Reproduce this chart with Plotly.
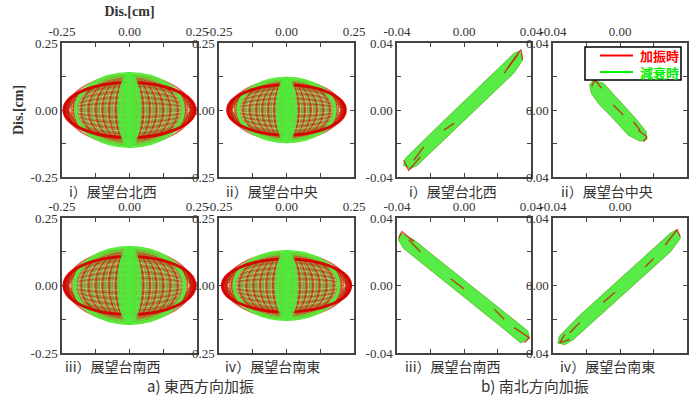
import plotly.graph_objects as go

# ---------------- data (cm) ----------------
# a) East-West excitation: orbit drawn as families of ellipses (semi-axes)
a_panels = ["a1", "a2", "a3", "a4"]
a_red_tip_rx = [0.245, 0.220, 0.245, 0.240]      # red envelope semi-axis x
a_red_tip_ry = [0.105, 0.095, 0.110, 0.100]      # red envelope semi-axis y
a_green_rx = [0.200, 0.180, 0.205, 0.195]        # green envelope semi-axis x
a_green_ry = [0.140, 0.122, 0.145, 0.130]        # green envelope semi-axis y
a_mer_frac = [0.94, 0.84, 0.73, 0.62, 0.51, 0.41, 0.31, 0.21]   # red meridian x-amplitudes / rx
a_par_frac = [0.85, 0.65, 0.45, 0.25]                            # red parallel y-amplitudes / ry
a_core_frac = [0.20, 0.15, 0.11, 0.07, 0.035]                    # green central band x-amplitudes / green rx

# b) North-South excitation: outline of the orbit band (polygon) per panel
b1_x = [-0.035, -0.025, -0.010, 0.005, 0.020, 0.030, 0.033, 0.035, 0.030, 0.015, 0.000, -0.015, -0.028, -0.032, -0.036, -0.035]
b1_y = [-0.029, -0.019, -0.0046, 0.0098, 0.0242, 0.0338, 0.035, 0.030, 0.0224, 0.008, -0.0064, -0.0208, -0.033, -0.035, -0.033, -0.029]
b2_x = [-0.016, -0.010, 0.000, 0.010, 0.0155, 0.016, 0.012, 0.005, -0.005, -0.012, -0.017, -0.018, -0.016]
b2_y = [0.0175, 0.016, 0.005, -0.006, -0.013, -0.0175, -0.0185, -0.015, -0.004, 0.003, 0.010, 0.015, 0.0175]
b3_x = [-0.038, -0.030, -0.015, 0.000, 0.015, 0.030, 0.038, 0.039, 0.034, 0.020, 0.005, -0.010, -0.025, -0.036, -0.039, -0.038]
b3_y = [0.031, 0.027, 0.015, 0.003, -0.009, -0.021, -0.027, -0.031, -0.034, -0.0226, -0.0106, 0.0014, 0.0134, 0.022, 0.027, 0.031]
b4_x = [-0.036, -0.025, -0.010, 0.005, 0.020, 0.030, 0.034, 0.036, 0.030, 0.015, 0.000, -0.015, -0.028, -0.033, -0.037, -0.036]
b4_y = [-0.030, -0.0187, -0.0052, 0.0083, 0.0218, 0.0308, 0.033, 0.028, 0.020, 0.0066, -0.0069, -0.0204, -0.032, -0.035, -0.034, -0.030]

# red loops visible at the ends of the bands and streaks inside (segments separated by None)
b1_rx = [-0.036, -0.033, -0.026, None, 0.024, 0.034, 0.035, None, -0.012, -0.006, None, 0.026, 0.032, None, -0.030, -0.024]
b1_ry = [-0.030, -0.036, -0.028, None, 0.022, 0.036, 0.030, None, -0.012, -0.008, None, 0.025, 0.033, None, -0.030, -0.022]
b2_rx = [-0.017, -0.015, -0.011, None, 0.011, 0.016, 0.014, None, -0.004, 0.002, None, 0.008, 0.012]
b2_ry = [0.014, 0.018, 0.013, None, -0.012, -0.016, -0.019, None, 0.003, -0.003, None, -0.007, -0.012]
b3_rx = [-0.039, -0.037, -0.030, None, 0.030, 0.039, 0.036, None, -0.008, 0.000, None, 0.018, 0.024, None, -0.033, -0.026]
b3_ry = [0.028, 0.032, 0.026, None, -0.025, -0.031, -0.034, None, 0.004, -0.002, None, -0.014, -0.020, None, 0.027, 0.020]
b4_rx = [-0.030, -0.036, -0.033, None, 0.027, 0.034, 0.036, None, -0.010, -0.003, None, 0.015, 0.020, None, -0.030, -0.024]
b4_ry = [-0.032, -0.034, -0.029, None, 0.024, 0.033, 0.029, None, -0.010, -0.004, None, 0.011, 0.016, None, -0.028, -0.022]

b_panels = ["b1", "b2", "b3", "b4"]
b_x = [b1_x, b2_x, b3_x, b4_x]
b_y = [b1_y, b2_y, b3_y, b4_y]
b_rx = [b1_rx, b2_rx, b3_rx, b4_rx]
b_ry = [b1_ry, b2_ry, b3_ry, b4_ry]

series_names = ["加振時", "減衰時"]
series_colors = ["#ff0000", "#00ee00"]

captions = ["i）展望台北西", "ii）展望台中央", "i）展望台北西", "ii）展望台中央",
            "iii）展望台南西", "iv）展望台南東", "iii）展望台南西", "iv）展望台南東"]
a_ticks = [-0.25, -0.125, 0.0, 0.125, 0.25]
a_ticktext = ["-0.25", "", "0.00", "", "0.25"]
b_ticks = [-0.04, -0.02, 0.0, 0.02, 0.04]
b_ticktext = ["-0.04", "", "0.00", "", "0.04"]

# ---------------- layout geometry ----------------
W, H = 691, 399
cols = [(62, 197), (219, 354), (397, 531), (553, 687)]
rows = [(43, 177), (218, 353)]
order = [("a1", 0, 0), ("a2", 1, 0), ("b1", 2, 0), ("b2", 3, 0),
         ("a3", 0, 1), ("a4", 1, 1), ("b3", 2, 1), ("b4", 3, 1)]

SERIF = "Liberation Serif"
CJK = "Noto Sans CJK JP"

fig = go.Figure()
shapes = []
annotations = []
layout_axes = {}

for i, (name, c, r) in enumerate(order):
    k = i + 1
    xa = "x" if k == 1 else f"x{k}"
    ya = "y" if k == 1 else f"y{k}"
    xkey = "xaxis" if k == 1 else f"xaxis{k}"
    ykey = "yaxis" if k == 1 else f"yaxis{k}"
    x0, x1 = cols[c]
    y0, y1 = rows[r]
    is_a = name.startswith("a")
    rng = [-0.25, 0.25] if is_a else [-0.04, 0.04]
    tv = a_ticks if is_a else b_ticks
    tt = a_ticktext if is_a else b_ticktext
    common = dict(range=rng, tickvals=tv, ticktext=tt, ticks="inside", ticklen=4,
                  tickcolor="#444", showline=True, linecolor="#444", linewidth=1.5,
                  mirror="ticks", showgrid=False, zeroline=False, automargin=False,
                  tickfont=dict(family=SERIF, size=13, color="#333"), fixedrange=True)
    layout_axes[xkey] = dict(common, domain=[x0 / W, x1 / W], anchor=ya, side="top")
    layout_axes[ykey] = dict(common, domain=[1 - y1 / H, 1 - y0 / H], anchor=xa)
    if k == 1:
        layout_axes[xkey]["title"] = dict(text="<b>Dis.[cm]</b>", standoff=4,
                                          font=dict(family=SERIF, size=14, color="#333"))
        layout_axes[ykey]["title"] = dict(text="<b>Dis.[cm]</b>", standoff=4,
                                          font=dict(family=SERIF, size=14, color="#333"))

    fig.add_trace(go.Scatter(x=[rng[0], rng[1]], y=[rng[0], rng[1]], mode="markers",
                             marker=dict(opacity=0), hoverinfo="skip", showlegend=False,
                             xaxis=xa, yaxis=ya))

    if is_a:
        j = a_panels.index(name)
        rxr, ryr = a_red_tip_rx[j], a_red_tip_ry[j]
        rxg, ryg = a_green_rx[j], a_green_ry[j]

        def ell(rx, ry, line=None, fill=None, width=1.0):
            d = dict(type="circle", xref=xa, yref=ya, x0=-rx, x1=rx, y0=-ry, y1=ry,
                     line=dict(color=line if line else "rgba(0,0,0,0)", width=width))
            if fill:
                d["fillcolor"] = fill
            shapes.append(d)

        # envelopes
        ell(rxr, ryr, fill="rgba(205,20,10,0.95)")
        ell(rxg, ryg, fill="rgba(90,230,60,0.95)")
        ell(rxg * 1.03, ryr * 1.12, fill="rgba(150,135,60,0.9)")
        # meridians: red, green and pale gaps alternating
        for f in a_mer_frac:
            ell(rxr * f, ryg * 0.93, line="rgba(215,30,10,0.7)", width=1.6)
            ell(rxr * (f - 0.035), ryg * 0.95, line="rgba(100,215,60,0.6)", width=1.0)
            ell(rxr * (f - 0.07), ryg * 0.9, line="rgba(250,240,190,0.7)", width=0.6)
        # red parallels (share the red x-extent)
        for f in a_par_frac:
            ell(rxr * 0.98, ryr * f, line="rgba(200,40,10,0.5)", width=1.0)
            ell(rxr * 0.9, ryr * (f - 0.1), line="rgba(250,240,190,0.55)", width=0.6)
        # outer rings
        ell(rxg, ryg * 0.97, line="rgba(90,235,60,0.95)", width=3)
        ell(rxg * 0.98, ryg * 0.9, line="rgba(90,235,60,0.75)", width=2)
        ell(rxr * 0.99, ryr * 0.98, line="rgba(215,0,0,0.95)", width=3)
        # green central band
        ell(rxg * 0.2, ryg * 0.98, fill="rgba(90,230,60,0.45)")
        for f in a_core_frac:
            ell(rxg * f, ryg * 0.98, line="rgba(80,235,60,0.8)", width=2.2)
        ell(rxg * 0.06, ryg * 0.98, fill="rgba(80,235,60,0.85)")
    else:
        j = b_panels.index(name)
        fig.add_trace(go.Scatter(x=b_x[j], y=b_y[j], mode="lines", line=dict(color="rgba(200,60,20,0.5)", width=1.2),
                                 hoverinfo="skip", showlegend=False, xaxis=xa, yaxis=ya))
        fig.add_trace(go.Scatter(x=b_x[j], y=b_y[j], mode="lines", fill="toself",
                                 fillcolor="rgba(80,235,60,0.95)", line=dict(color="rgba(60,225,50,0.9)", width=1),
                                 hoverinfo="skip", showlegend=False, xaxis=xa, yaxis=ya))
        fig.add_trace(go.Scatter(x=b_rx[j], y=b_ry[j], mode="lines",
                                 line=dict(color="rgba(200,30,10,0.8)", width=1.4),
                                 hoverinfo="skip", showlegend=False, xaxis=xa, yaxis=ya))

    cx = [113, 272, 453, 607][c]
    cy = [191, 366][r]
    annotations.append(dict(text=captions[i], x=cx / W, y=1 - cy / H, xref="paper", yref="paper",
                            showarrow=False, xanchor="center", yanchor="middle",
                            font=dict(family=CJK, size=14, color="#333")))

# legend box (upper right of panel b-ii)
shapes.append(dict(type="rect", xref="paper", yref="paper", x0=585 / W, x1=681 / W,
                   y0=1 - 80 / H, y1=1 - 47 / H, fillcolor="white",
                   line=dict(color="black", width=1.5)))
for n, (nm, col) in enumerate(zip(series_names, series_colors)):
    yy = 1 - (55.5 + 16.5 * n) / H
    shapes.append(dict(type="line", xref="paper", yref="paper", x0=600 / W, x1=633 / W,
                       y0=yy, y1=yy, line=dict(color=col, width=2)))
    annotations.append(dict(text=f"<b>{nm}</b>", x=681 / W, y=yy, xref="paper", yref="paper",
                            showarrow=False, xanchor="right", yanchor="middle",
                            font=dict(family=CJK, size=13, color=col)))

annotations.append(dict(text="a) 東西方向加振", x=200 / W, y=1 - 385 / H, xref="paper", yref="paper",
                        showarrow=False, xanchor="center", yanchor="middle",
                        font=dict(family=CJK, size=15, color="#333")))
annotations.append(dict(text="b) 南北方向加振", x=535 / W, y=1 - 385 / H, xref="paper", yref="paper",
                        showarrow=False, xanchor="center", yanchor="middle",
                        font=dict(family=CJK, size=15, color="#333")))

fig.update_layout(
    width=W, height=H, margin=dict(l=0, r=0, t=0, b=0, autoexpand=False),
    paper_bgcolor="white", plot_bgcolor="white", showlegend=False,
    shapes=shapes, annotations=annotations,
    **layout_axes,
)

fig.write_html("out.html")
